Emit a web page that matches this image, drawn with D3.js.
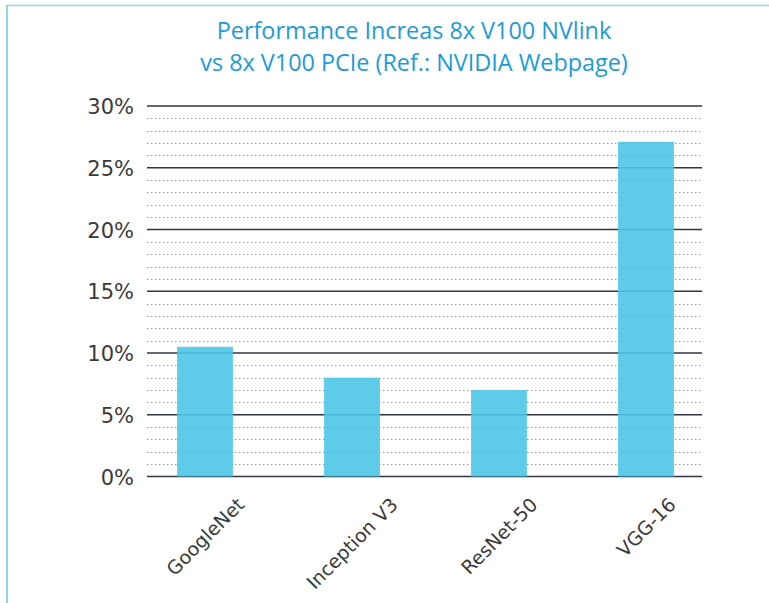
<!DOCTYPE html>
<html>
<head>
<meta charset="utf-8">
<script src="https://cdn.jsdelivr.net/npm/d3@7"></script>
<style>
  html, body { margin: 0; padding: 0; background: #fff; }
  svg { display: block; }
</style>
</head>
<body>
<svg id="chart" width="769" height="603"></svg>
<script>
const categories = ["GoogleNet", "Inception V3", "ResNet-50", "VGG-16"];
const values = [10.5, 8.0, 7.0, 27.1];
const majorTicks = [0, 5, 10, 15, 20, 25, 30];
const minorTicks = d3.range(0, 30, 1).filter(v => v % 5 !== 0);
const titleLines = ["Performance Increas 8x V100 NVlink", "vs 8x V100 PCIe (Ref.: NVIDIA Webpage)"];

const svg = d3.select("#chart");
const W = 769, H = 603;

// frame lines (top and left)
svg.append("line").attr("x1", 6.5).attr("x2", W).attr("y1", 5.5).attr("y2", 5.5)
  .attr("stroke", "#8fd6ec").attr("stroke-width", 1.5);
svg.append("line").attr("x1", 7).attr("x2", 7).attr("y1", 5).attr("y2", H)
  .attr("stroke", "#8fd6ec").attr("stroke-width", 2);

// title (two separate lines)
svg.append("g").selectAll("text").data(titleLines).join("text")
  .attr("text-anchor", "middle")
  .attr("font-family", "'Open Sans', sans-serif")
  .attr("font-size", 23.4)
  .attr("fill", "#1d9bd6")
  .attr("x", 414).attr("y", (d, i) => 39 + i * 32)
  .text(d => d);

const y = d3.scaleLinear().domain([0, 30]).range([476.5, 106]);
const gridX0 = 147, gridX1 = 702;
const x = d3.scaleBand().domain(categories).range([131.5, 719.5]).paddingInner(0.62).paddingOuter(0.31);

// minor dotted grid
svg.append("g").selectAll("line").data(minorTicks).join("line")
  .attr("x1", gridX0).attr("x2", gridX1)
  .attr("y1", d => Math.round(y(d)) + 0.5).attr("y2", d => Math.round(y(d)) + 0.5)
  .attr("stroke", "#9a9a9a").attr("stroke-width", 1)
  .attr("stroke-dasharray", "1.5,2.5");

// major grid
svg.append("g").selectAll("line").data(majorTicks).join("line")
  .attr("x1", gridX0).attr("x2", gridX1)
  .attr("y1", d => y(d)).attr("y2", d => y(d))
  .attr("stroke", "#2e3742").attr("stroke-width", 1.6);

// bars
svg.append("g").selectAll("rect").data(values).join("rect")
  .attr("x", (d, i) => x(categories[i]))
  .attr("width", x.bandwidth())
  .attr("y", d => y(d))
  .attr("height", d => y(0) - y(d))
  .attr("fill", "#4dc5e6")
  .attr("fill-opacity", 0.9);

// y axis labels
const yAxis = d3.axisLeft(y).tickValues(majorTicks).tickFormat(d => d + "%").tickSize(0).tickPadding(0);
const gy = svg.append("g").attr("transform", "translate(134,0)").call(yAxis);
gy.select(".domain").remove();
gy.selectAll("text")
  .attr("font-family", "'DejaVu Sans', sans-serif")
  .attr("font-size", 21)
  .attr("fill", "#3a3a3a")
  .attr("dy", "0.36em");

// x labels rotated
const xl = svg.append("g").selectAll("text").data(categories).join("text")
  .attr("font-family", "'DejaVu Sans', sans-serif")
  .attr("font-size", 19)
  .attr("fill", "#3a3a3a")
  .attr("text-anchor", "middle")
  .attr("dominant-baseline", "central")
  .text(d => d);
xl.each(function(d) {
  const L = this.getComputedTextLength();
  const cx = x(d) + x.bandwidth() / 2;
  const cy = 501 + L * 0.3536;
  d3.select(this).attr("transform", `translate(${cx},${cy}) rotate(-45)`);
});
</script>
</body>
</html>
